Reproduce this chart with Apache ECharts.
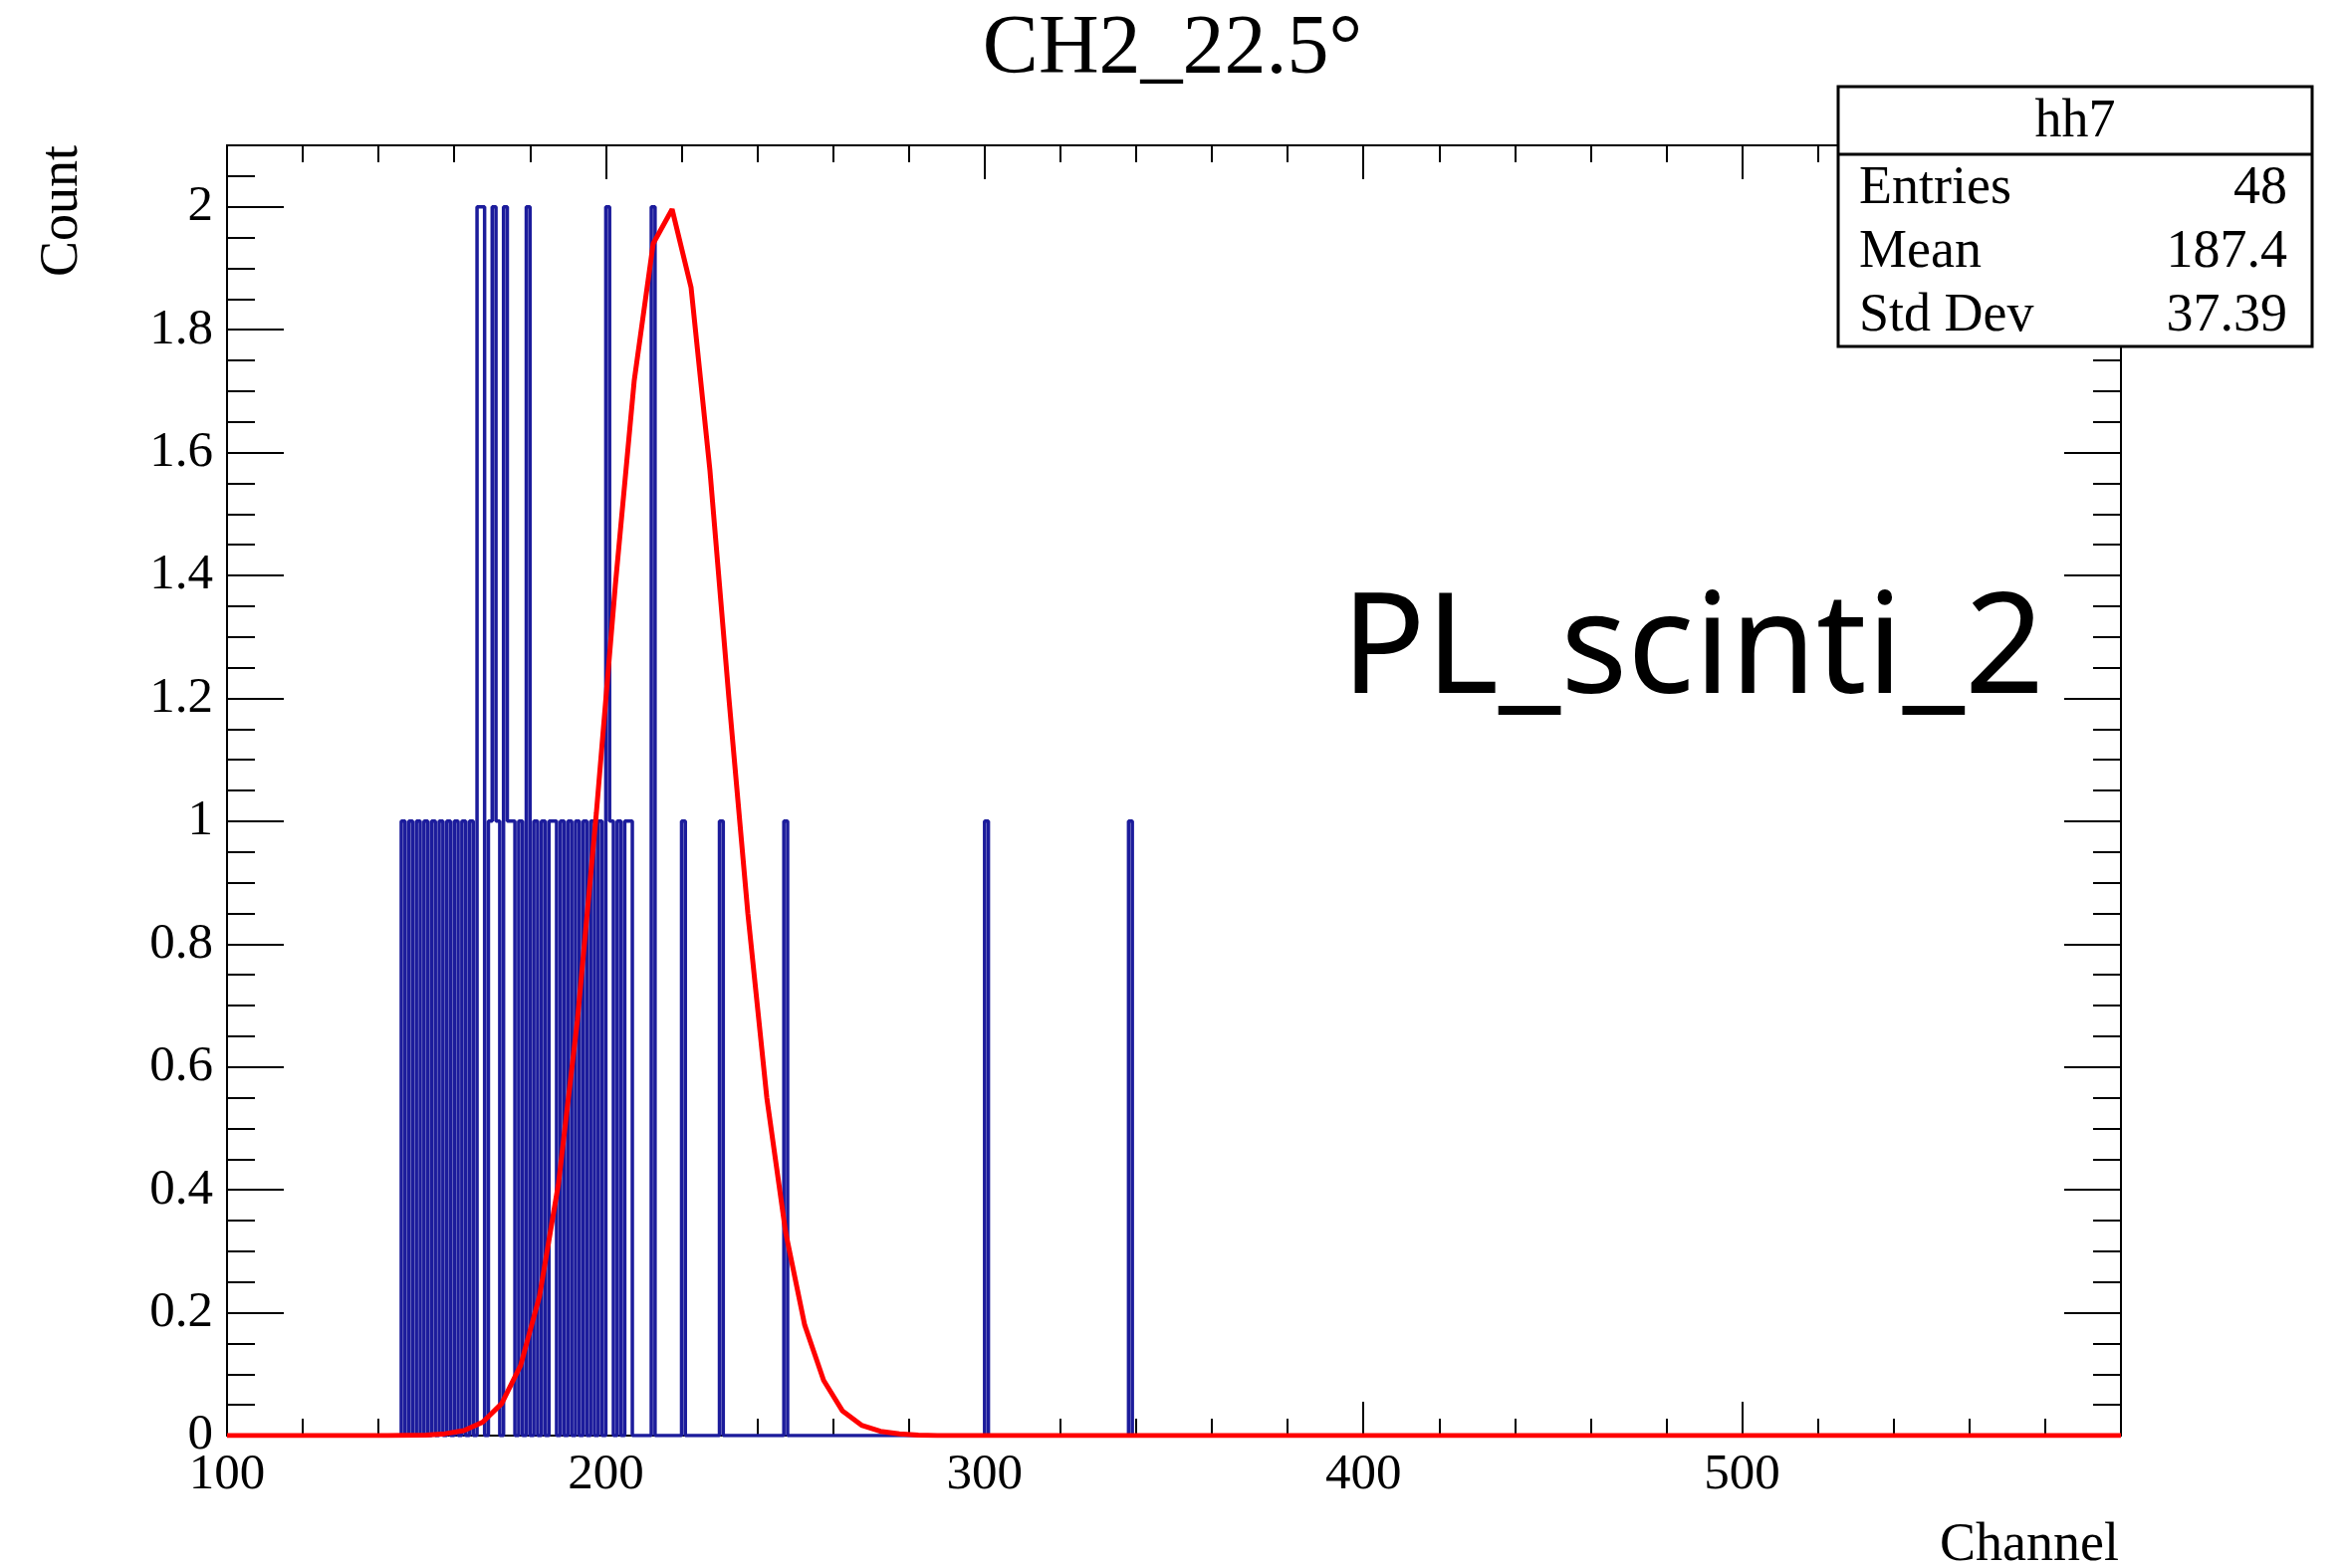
<!DOCTYPE html>
<html>
<head>
<meta charset="utf-8">
<script src="https://cdn.jsdelivr.net/npm/echarts@6/dist/echarts.min.js"></script>
<style>
html, body { margin: 0; padding: 0; background: #fff; }
#main { width: 2355px; height: 1575px; }
</style>
</head>
<body>
<div id="main"></div>
<script>
// histogram bins (channel low edge, count), 1 channel wide
var binChannels = [146, 148, 150, 152, 154, 156, 158, 160, 162, 164, 166, 167, 169, 170, 171, 173, 174, 175, 177, 179,
    181, 183, 185, 186, 188, 190, 192, 194, 196, 198, 200, 201, 203, 205, 206, 212, 220, 230, 247, 300, 338];
var binCounts = [1, 1, 1, 1, 1, 1, 1, 1, 1, 1, 2, 2, 1, 2, 1, 2, 1, 1, 1, 2,
    1, 1, 1, 1, 1, 1, 1, 1, 1, 1, 2, 1, 1, 1, 1, 2, 1, 1, 1, 1, 1];

// gaussian fit drawn as polyline
var fitX = [100, 137.5, 142.5, 147.5, 152.5, 157.5, 162.5, 167.5, 172.5, 177.5, 182.5, 187.5, 192.5, 197.5, 202.5,
    207.5, 212.5, 217.5, 222.5, 227.5, 232.5, 237.5, 242.5, 247.5, 252.5, 257.5, 262.5, 267.5, 272.5, 277.5, 282.5, 287.5, 600];
var fitY = [0, 0, 0, 0.0005, 0.001, 0.003, 0.008, 0.022, 0.052, 0.114, 0.227, 0.41, 0.676, 1.013, 1.383,
    1.717, 1.94, 1.996, 1.869, 1.57, 1.2, 0.85, 0.55, 0.33, 0.18, 0.09, 0.04, 0.017, 0.007, 0.003, 0.001, 0, 0];

// x labels shown (600 is hidden in the original)
var xLabels = ['100', '200', '300', '400', '500'];

var statsNames = ['Entries', 'Mean', 'Std Dev'];
var statsValues = ['48', '187.4', '37.39'];

var serif = 'Liberation Serif';

var histData = [];
for (var ch = 100; ch <= 600; ch++) {
    histData.push([ch, 0]);
}
binChannels.forEach(function (c, i) {
    histData[c - 100][1] = binCounts[i];
});

var fitData = fitX.map(function (x, i) {
    return [x, fitY[i]];
});

function xAxisDef(grid, pos, interval, len, labels) {
    return {
        type: 'value',
        gridIndex: grid,
        position: pos,
        min: 100,
        max: 600,
        interval: interval,
        axisLine: {show: false, onZero: false},
        splitLine: {show: false},
        axisTick: {show: true, inside: true, length: len, lineStyle: {color: '#000', width: 2}},
        axisLabel: {
            show: labels,
            margin: 14,
            color: '#000',
            fontFamily: serif,
            fontSize: 51,
            formatter: function (v) {
                var s = String(v);
                return xLabels.indexOf(s) >= 0 ? s : '';
            }
        }
    };
}

function yAxisDef(grid, pos, interval, len, labels) {
    return {
        type: 'value',
        gridIndex: grid,
        position: pos,
        min: 0,
        max: 2.1,
        interval: interval,
        axisLine: {show: false, onZero: false},
        splitLine: {show: false},
        axisTick: {show: true, inside: true, length: len, lineStyle: {color: '#000', width: 2}},
        axisLabel: {
            show: labels,
            showMaxLabel: false,
            margin: 14,
            color: '#000',
            fontFamily: serif,
            fontSize: 51
        }
    };
}

var gridBox = {left: 228, right: 225, top: 146, bottom: 133, containLabel: false, outerBoundsMode: 'none'};

var boxFont = '54px "Liberation Serif"';

var statsItems = [
    {type: 'rect', shape: {x: 1846, y: 87, width: 476, height: 261},
        style: {fill: '#fff', stroke: '#000', lineWidth: 3}},
    {type: 'line', shape: {x1: 1846, y1: 155, x2: 2322, y2: 155},
        style: {stroke: '#000', lineWidth: 3}},
    {type: 'text', x: 2084, y: 123,
        style: {text: 'hh7', font: boxFont, fill: '#000', align: 'center', verticalAlign: 'middle'}}
];
statsNames.forEach(function (name, i) {
    statsItems.push({type: 'text', x: 1867, y: 190 + i * 64,
        style: {text: name, font: boxFont, fill: '#000', align: 'left', verticalAlign: 'middle'}});
    statsItems.push({type: 'text', x: 2297, y: 190 + i * 64,
        style: {text: statsValues[i], font: boxFont, fill: '#000', align: 'right', verticalAlign: 'middle'}});
});
statsItems.forEach(function (el) {
    el.z = 100;
});

var option = {
    animation: false,
    backgroundColor: '#fff',
    title: {
        text: 'CH2_22.5°',
        left: 'center',
        top: 4,
        textStyle: {color: '#000', fontFamily: serif, fontWeight: 'normal', fontSize: 84}
    },
    grid: [
        Object.assign({show: true, borderColor: '#000', borderWidth: 2, backgroundColor: 'transparent'}, gridBox),
        Object.assign({show: false}, gridBox)
    ],
    xAxis: [
        xAxisDef(0, 'bottom', 100, 34, true),
        xAxisDef(0, 'top', 100, 34, false),
        xAxisDef(1, 'bottom', 20, 17, false),
        xAxisDef(1, 'top', 20, 17, false)
    ],
    yAxis: [
        yAxisDef(0, 'left', 0.2, 57, true),
        yAxisDef(0, 'right', 0.2, 57, false),
        yAxisDef(1, 'left', 0.05, 28, false),
        yAxisDef(1, 'right', 0.05, 28, false)
    ],
    series: [
        {
            name: 'hh7',
            type: 'line',
            xAxisIndex: 0,
            yAxisIndex: 0,
            step: 'end',
            showSymbol: false,
            lineStyle: {color: '#1c1c9c', width: 3.5},
            data: histData,
            z: 2
        },
        {
            name: 'fit',
            type: 'line',
            xAxisIndex: 0,
            yAxisIndex: 0,
            showSymbol: false,
            lineStyle: {color: '#ff0000', width: 5},
            data: fitData,
            z: 3
        }
    ],
    graphic: [
        {
            type: 'text',
            x: 63,
            y: 146,
            rotation: Math.PI / 2,
            style: {text: 'Count', font: '54px "Liberation Serif"', fill: '#000', align: 'right', verticalAlign: 'middle'}
        },
        {
            type: 'text',
            x: 2128,
            y: 1553,
            style: {text: 'Channel', font: '54px "Liberation Serif"', fill: '#000', align: 'right', verticalAlign: 'middle'}
        },
        {
            type: 'text',
            x: 1347,
            y: 656,
            z: 10,
            style: {text: 'PL_scinti_2', font: '140px "Noto Sans"', fill: '#000', align: 'left', verticalAlign: 'middle'}
        }
    ].concat(statsItems)
};

var chart = echarts.init(document.getElementById('main'));
chart.setOption(option);
</script>
</body>
</html>
